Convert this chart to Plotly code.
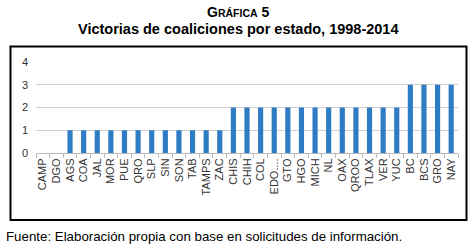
import plotly.graph_objects as go

states = ["CAMP", "DGO", "AGS", "COA", "JAL", "MOR", "PUE", "QRO", "SLP", "SIN", "SON",
          "TAB", "TAMPS", "ZAC", "CHIS", "CHIH", "COL", "EDO....", "GTO", "HGO", "MICH",
          "NL", "OAX", "QROO", "TLAX", "VER", "YUC", "BC", "BCS", "GRO", "NAY"]
victorias = [0, 0, 1, 1, 1, 1, 1, 1, 1, 1, 1, 1, 1, 1, 2, 2, 2, 2, 2, 2, 2,
             2, 2, 2, 2, 2, 2, 3, 3, 3, 3]
y_ticks = [0, 1, 2, 3, 4]

W, H = 475, 248
L, R, T, B = 36, 458, 62, 153  # plot area in page pixels


def px(x):
    return (x - L) / (R - L)


def py(y):
    return (B - y) / (B - T)


fig = go.Figure(go.Bar(x=states, y=victorias, marker_color="#2E7CC4",
                       marker_line_width=0))

fig.update_layout(
    width=W, height=H,
    margin=dict(l=L, r=W - R, t=T, b=H - B, pad=0),
    paper_bgcolor="white", plot_bgcolor="white",
    bargap=0.62,
    showlegend=False,
    font=dict(family="Liberation Sans, Arial, sans-serif", color="#222"),
    xaxis=dict(type="category", tickangle=-90, tickfont=dict(size=11, color="#333"),
               showgrid=False, showline=True, linecolor="#bbb", linewidth=1,
               ticks="outside", ticklen=4, tickcolor="#bbb", tickson="boundaries",
               automargin=False),
    yaxis=dict(range=[0, 4], tickvals=y_ticks, tickfont=dict(size=11, color="#333"),
               showgrid=True, gridcolor="#d0d0d0", gridwidth=1,
               zeroline=False, showline=False, ticks="", ticklabelstandoff=7,
               automargin=False),
    shapes=[dict(type="rect", xref="paper", yref="paper",
                 x0=px(10.5), x1=px(466.5), y0=py(220), y1=py(46.5),
                 line=dict(color="black", width=2), fillcolor="rgba(0,0,0,0)")],
    annotations=[
        dict(text="<b>G<span style='font-size:10.5px'>RÁFICA</span> 5</b>", xref="paper",
             yref="paper", x=px(238), y=py(12), xanchor="center", yanchor="middle",
             showarrow=False, font=dict(size=14, color="black")),
        dict(text="<b>Victorias de coaliciones por estado, 1998-2014</b>", xref="paper",
             yref="paper", x=px(238), y=py(29), xanchor="center", yanchor="middle",
             showarrow=False, font=dict(size=14.5, color="black")),
        dict(text="Fuente: Elaboración propia con base en solicitudes de información.",
             xref="paper", yref="paper", x=px(4), y=py(236), xanchor="left",
             yanchor="middle", showarrow=False, font=dict(size=13.3, color="black")),
    ],
)

fig.write_html(
    "out.html",
    config={"displayModeBar": False},
    post_script="document.body.style.margin='0';document.body.style.overflow='hidden';",
)
